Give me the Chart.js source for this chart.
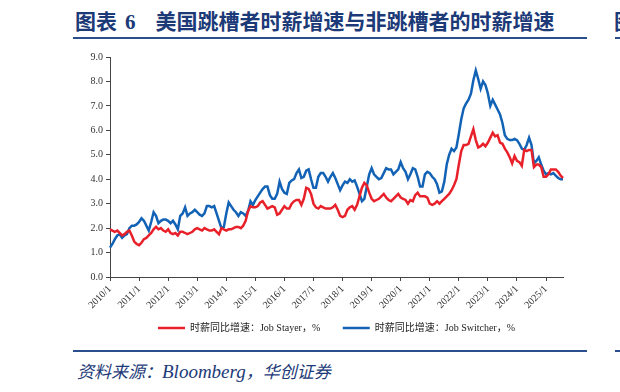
<!DOCTYPE html>
<html>
<head>
<meta charset="utf-8">
<script src="https://cdn.jsdelivr.net/npm/chart.js"></script>
<style>
  body { margin: 0; width: 620px; height: 392px; overflow: hidden; background: #fff; position: relative; }
  .title { position: absolute; left: 75px; top: 9px; font: bold 21px/22px 'Noto Sans CJK SC', sans-serif; color: #1c3a78; white-space: nowrap; }
  .title .num { font-family: 'Liberation Serif', serif; margin: 0 4px 0 8px; }
  .title .gap { display: inline-block; width: 16px; }
  .rule { position: absolute; height: 2px; background: #2b4f8e; }
  .source { position: absolute; left: 77px; top: 361px; font: italic 17px/20px 'Noto Sans CJK SC', sans-serif; color: #1c3a78; white-space: nowrap; }
  .source .en { font-family: 'Liberation Serif', serif; font-size: 19px; }
  .next { position: absolute; left: 614px; top: 9px; font: bold 21px/22px 'Noto Sans CJK SC', sans-serif; color: #1c3a78; }
  #wrap { position: absolute; left: 0; top: 45px; width: 620px; height: 300px; }
</style>
</head>
<body>
<div class="title">图表<span class="num">6</span><span class="gap"></span>美国跳槽者时薪增速与非跳槽者的时薪增速</div>
<div class="rule" style="left:73px; width:514px; top:37px;"></div>
<div class="next">图</div>
<div class="rule" style="left:615px; width:10px; top:37px;"></div>
<div id="wrap"><canvas id="wage_chart"></canvas></div>
<div class="rule" style="left:73px; width:514px; top:350px;"></div>
<div class="rule" style="left:615px; width:10px; top:350px;"></div>
<div class="source">资料来源：<span class="en">Bloomberg</span>，华创证券</div>

<script>
// 月度标签：2010/1 ~ 2025/8
const months = [];
for (let i = 0; i < 188; i++) months.push(`${2010 + Math.floor(i / 12)}/${(i % 12) + 1}`);

// 第一个图例后面留一点空，拉开两项的距离
const seriesNames = ["时薪同比增速：Job Stayer，%\u3000 ", "时薪同比增速：Job Switcher，%"];

// 非跳槽者（Job Stayer），每行一年
const jobStayer = [
  1.95, 1.9, 1.85, 1.9, 1.8, 1.7, 1.75, 1.85, 1.9, 1.7, 1.45, 1.35,
  1.3, 1.4, 1.55, 1.6, 1.7, 1.8, 1.95, 2.05, 1.95, 2.0, 1.9, 1.85,
  1.95, 1.8, 1.75, 1.8, 1.7, 1.85, 1.85, 1.8, 1.75, 1.8, 1.85, 1.95,
  2.0, 1.95, 1.9, 2.0, 1.95, 1.9, 1.9, 1.95, 1.85, 1.75, 2.0, 1.95,
  1.9, 1.95, 1.95, 2.0, 2.05, 2.05, 2.0, 2.1, 2.3, 2.7, 2.9, 2.85,
  2.85, 2.9, 3.05, 3.1, 2.95, 2.8, 2.85, 2.9, 2.85, 2.55, 2.6, 2.75,
  2.9, 2.8, 2.8, 3.0, 3.1, 3.15, 3.15, 2.95, 3.2, 3.65, 3.6, 3.4,
  3.0, 2.85, 2.8, 2.9, 2.85, 2.8, 2.8, 2.8, 2.85, 2.95, 2.75, 2.5,
  2.45, 2.5, 2.75, 2.85, 2.9, 2.75, 2.95, 3.3, 3.65, 3.85, 3.75, 3.45,
  3.2, 3.1, 3.15, 3.2, 3.3, 3.4, 3.25, 3.15, 3.1, 3.2, 3.3, 3.4,
  3.25, 3.2, 3.15, 3.0, 3.15, 3.1, 3.35, 3.45, 3.3, 3.3, 3.3, 3.25,
  3.0, 2.95, 3.0, 3.1, 3.0, 3.1, 3.2, 3.3, 3.4, 3.55, 3.75, 4.0,
  4.6, 5.15, 5.4, 5.4, 5.45, 5.75, 6.05, 5.6, 5.3, 5.35, 5.45, 5.35,
  5.5, 5.7, 5.9, 5.75, 5.8, 5.5, 5.45, 5.25, 5.1, 4.9, 4.65, 4.95,
  4.75, 4.7, 4.55, 5.2, 5.15, 5.2, 5.2, 4.5, 4.6, 4.6, 4.5, 4.1,
  4.1, 4.2, 4.4, 4.4, 4.4, 4.3, 4.15, 4.05,
];

// 跳槽者（Job Switcher）
const jobSwitcher = [
  1.2, 1.35, 1.55, 1.7, 1.75, 1.6, 1.7, 1.75, 2.0, 2.1, 2.1, 2.15,
  2.25, 2.4, 2.3, 2.1, 1.9, 2.25, 2.65, 2.5, 2.2, 2.3, 2.35, 2.35,
  2.3, 2.2, 2.3, 2.15, 1.95, 2.5, 2.6, 2.85, 2.5, 2.6, 2.65, 2.75,
  2.65, 2.55, 2.5, 2.6, 2.9, 2.9, 2.85, 2.9, 2.6, 2.3, 2.0, 2.05,
  2.6, 3.05, 2.9, 2.75, 2.65, 2.5, 2.65, 2.6, 2.5, 2.7, 3.1, 2.95,
  3.15, 3.3, 3.45, 3.6, 3.7, 3.7, 3.35, 3.2, 3.2, 3.4, 3.9, 3.6,
  3.45, 3.4, 3.85, 3.95, 4.0, 4.25, 4.4, 4.05, 4.1, 4.35, 4.4, 4.0,
  3.65, 3.65, 4.1, 4.25, 4.25, 4.1, 3.9, 4.1, 4.25, 4.05, 3.8, 3.55,
  3.75, 3.9, 3.85, 4.0, 3.9, 3.95, 3.7, 3.4, 3.1, 3.2, 3.7, 4.2,
  4.45, 4.2, 4.1, 4.0, 4.05, 4.25, 4.45, 4.4, 4.4, 4.2, 4.3, 4.4,
  4.7, 4.45, 4.3, 4.0, 4.2, 4.45, 4.4, 4.1, 3.7, 3.7, 4.2, 4.3,
  4.25, 4.1, 4.0, 3.8, 3.45, 3.5, 3.9, 4.6, 5.0, 5.25, 5.15, 5.3,
  5.85, 6.45, 6.9, 7.1, 7.25, 7.5, 8.05, 8.45, 8.1, 7.7, 8.0, 7.85,
  7.5, 7.0, 7.25, 7.05, 6.85, 6.65, 6.3, 5.8, 5.65, 5.6, 5.6, 5.65,
  5.6, 5.45, 5.25, 5.2, 5.4, 5.7, 5.4, 4.65, 4.75, 4.9, 4.6, 4.35,
  4.2, 4.25, 4.2, 4.25, 4.15, 4.05, 4.0, 4.0,
];

const colors = ["#e8202a", "#1262b6"];
const axisFont = { family: "'Liberation Serif', 'Noto Sans CJK SC', serif", size: 10 };

new Chart(document.getElementById("wage_chart"), {
  type: "line",
  data: {
    labels: months,
    datasets: [jobStayer, jobSwitcher].map((d, i) => ({
      label: seriesNames[i],
      data: d,
      borderColor: colors[i],
      backgroundColor: colors[i],
      borderWidth: 2.5,
      pointRadius: 0,
      tension: 0,
    })),
  },
  options: {
    responsive: true,
    maintainAspectRatio: false,
    animation: false,
    layout: { padding: { left: 0, right: 57, top: 12, bottom: 2 } },
    plugins: {
      tooltip: { enabled: false },
      legend: {
        position: "bottom",
        fullSize: false,
        labels: {
          usePointStyle: true,
          pointStyle: "line",
          pointStyleWidth: 27,
          padding: 10,
          color: "#222",
          font: axisFont,
        },
      },
    },
    scales: {
      x: {
        offset: false,
        afterFit: (s) => { s.height = 36; },
        border: { display: true, color: "#444", width: 1 },
        grid: {
          drawOnChartArea: false,
          tickLength: 4,
          color: (c) => (c.index % 12 === 0 ? "#444" : "rgba(0,0,0,0)"),
        },
        ticks: {
          autoSkip: false,
          minRotation: 45,
          maxRotation: 45,
          padding: 2,
          color: "#333",
          font: axisFont,
          callback: (v, i) => (i % 12 === 0 ? months[i] : ""),
        },
      },
      y: {
        min: 0,
        max: 9,
        afterFit: (s) => { s.width = 110; },
        border: { display: true, color: "#444", width: 1 },
        grid: { drawOnChartArea: false, tickLength: 4, color: "#444" },
        ticks: {
          stepSize: 1,
          padding: 3,
          color: "#333",
          font: axisFont,
          callback: (v) => v.toFixed(1),
        },
      },
    },
  },
});
</script>
</body>
</html>
